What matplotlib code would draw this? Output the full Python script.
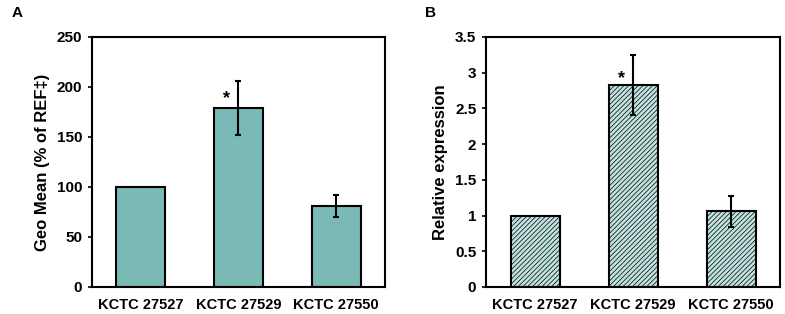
import numpy as np
import matplotlib.pyplot as plt

plt.rcParams['font.family'] = ['Liberation Sans', 'DejaVu Sans']
plt.rcParams['font.weight'] = 'bold'
plt.rcParams['hatch.color'] = '#a6d4d0'
plt.rcParams['hatch.linewidth'] = 0.5

strains = ['KCTC 27527', 'KCTC 27529', 'KCTC 27550']

# panel A: geo mean (% of REF)
geo_mean = [100, 179, 81]
geo_err_hi = [0, 27, 11]
geo_err_lo = [0, 27, 11]

# panel B: relative expression
rel_expr = [1.0, 2.83, 1.06]
rel_err_hi = [0, 0.42, 0.21]
rel_err_lo = [0, 0.42, 0.22]

fig = plt.figure(figsize=(7.85, 3.14), dpi=100)
W, H = 785, 314
axA = fig.add_axes([92 / W, 1 - 287 / H, 293 / W, 250 / H])
axB = fig.add_axes([486 / W, 1 - 287 / H, 294 / W, 250 / H])

x = np.arange(len(strains))

axA.bar(x, geo_mean, width=0.5, color='#79bab6', edgecolor='black', linewidth=1.5, zorder=2)
axA.errorbar(x[1:], geo_mean[1:], yerr=[geo_err_lo[1:], geo_err_hi[1:]], fmt='none',
             ecolor='black', elinewidth=1.5, capsize=2, capthick=1.5, zorder=3)
axA.set_ylim(0, 250)
axA.set_yticks(np.arange(0, 251, 50))
axA.set_ylabel('Geo Mean (% of REF\u2021)', fontsize=12, fontweight='bold', labelpad=5)
axA.text(1 - 0.12, 188, '*', ha='center', va='center', fontsize=13, fontweight='bold')

axB.bar(x, rel_expr, width=0.5, color='#bfe2df', edgecolor='black', linewidth=1.5,
        hatch='///////', zorder=2)
axB.errorbar(x[1:], rel_expr[1:], yerr=[rel_err_lo[1:], rel_err_hi[1:]], fmt='none',
             ecolor='black', elinewidth=1.5, capsize=2, capthick=1.5, zorder=3)
axB.set_ylim(0, 3.5)
axB.set_yticks(np.arange(0, 3.51, 0.5))
axB.set_yticklabels(['0', '0.5', '1', '1.5', '2', '2.5', '3', '3.5'])
axB.set_ylabel('Relative expression', fontsize=12, fontweight='bold', labelpad=5)
axB.text(1 - 0.12, 2.92, '*', ha='center', va='center', fontsize=13, fontweight='bold')

for ax in (axA, axB):
    ax.set_xlim(-0.5, 2.5)
    ax.set_xticks(x)
    ax.set_xticklabels(strains, fontsize=10.5, fontweight='bold')
    ax.tick_params(axis='x', length=0, pad=8)
    ax.tick_params(axis='y', length=3, width=1.2, labelsize=11, pad=4)
    for s in ax.spines.values():
        s.set_linewidth(1.5)
    for lab in ax.get_yticklabels():
        lab.set_fontweight('bold')

fig.text(12 / W, 1 - 13 / H, 'A', fontsize=11, fontweight='bold', va='center')
fig.text(425 / W, 1 - 13 / H, 'B', fontsize=11, fontweight='bold', va='center')

fig.savefig('out.png', dpi=100)
